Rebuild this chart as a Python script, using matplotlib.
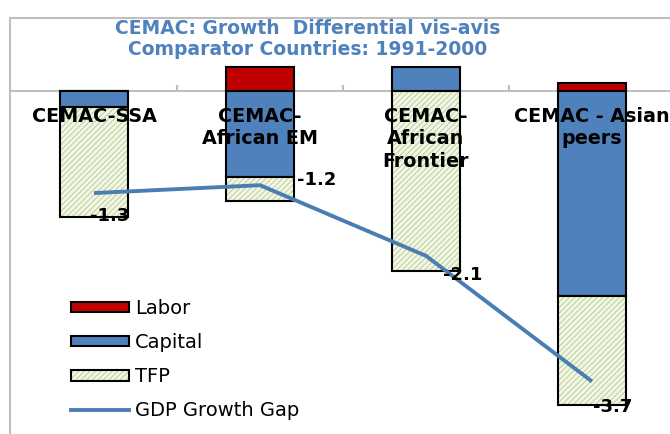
import numpy as np
import matplotlib
matplotlib.use('Agg')
import matplotlib.pyplot as plt
from matplotlib.patches import Patch, Rectangle
from matplotlib.lines import Line2D

# data
categories = ['CEMAC-SSA', 'CEMAC-\nAfrican EM', 'CEMAC-\nAfrican\nFrontier', 'CEMAC - Asian\npeers']
labor = [0.0, 0.30, 0.0, 0.10]
capital = [-0.20, -1.10, 0.30, -2.61]
tfp = [-1.41, -0.30, -2.29, -1.39]
gap = [-1.3, -1.2, -2.1, -3.7]
gap_labels = ['-1.3', '-1.2', '-2.1', '-3.7']

# colours
RED = '#c00000'
BLUE = '#4f81bd'
TFP_FACE = '#f1f6e7'
TFP_HATCH = '#b3ca8a'
LINE = '#4a7eb2'
GRID = '#bfbfbf'

plt.rcParams['hatch.linewidth'] = 0.6
plt.rcParams['font.family'] = ['DejaVu Sans']

fig = plt.figure(figsize=(6.7, 4.34), dpi=100)
W, H = 670, 434
PX = 78.5  # pixels per unit

ax = fig.add_axes([11 / W, 0, 664 / W, 1])
ax.set_xlim(-0.5, 3.5)
ax.set_ylim(-343 / PX, 91 / PX)
ax.axis('off')

# chart frame
fig.patches.append(Rectangle((10 / W, -0.1), 1.2, 1 - 18 / H + 0.1, transform=fig.transFigure,
                             fill=False, edgecolor=GRID, lw=1.5, zorder=0))

x = np.arange(len(categories))
width = 0.41
pos = np.zeros(len(x))
neg = np.zeros(len(x))

def stack(vals):
    global pos, neg
    vals = np.array(vals)
    bottom = np.where(vals >= 0, pos, neg)
    pos = pos + np.where(vals >= 0, vals, 0)
    neg = neg + np.where(vals < 0, vals, 0)
    return vals, bottom

v, b = stack(labor)
ax.bar(x, v, width, bottom=b, color=RED, edgecolor='black', lw=1.5, zorder=2)
v, b = stack(capital)
ax.bar(x, v, width, bottom=b, color=BLUE, edgecolor='black', lw=1.5, zorder=2)
v, b = stack(tfp)
ax.bar(x, v, width, bottom=b, color=TFP_FACE, edgecolor=TFP_HATCH, hatch='//////', lw=0, zorder=2)
ax.bar(x, v, width, bottom=b, fill=False, edgecolor='black', lw=1.5, zorder=2.1)

# category axis
ax.axhline(0, color=GRID, lw=1.5, zorder=1)
ax.vlines([0.5, 1.5, 2.5], 0, 6 / PX, color=GRID, lw=1.5, zorder=1)

for i, lab in enumerate(categories):
    ax.text(i, -16 / PX, lab, ha='center', va='top', fontsize=13.8, fontweight='bold',
            linespacing=1.22, zorder=5)

# growth gap line
ax.plot(x, gap, color=LINE, lw=2.8, zorder=4, solid_capstyle='butt')
offsets = [(16, -23), (57, 5), (37, -19), (21, -26)]
for xi, yi, lab, off in zip(x, gap, gap_labels, offsets):
    ax.annotate(lab, (xi, yi), xytext=off, textcoords='offset pixels', ha='center', va='center',
                fontsize=13, fontweight='bold', zorder=6)

# title
fig.text(308 / W, 1 - 39 / H, 'CEMAC: Growth  Differential vis-avis\nComparator Countries: 1991-2000',
         ha='center', va='center', color=BLUE, fontsize=13.5, fontweight='bold', linespacing=1.15)

# legend
h_labor = Patch(facecolor=RED, edgecolor='black', lw=1.5)
h_cap = Patch(facecolor=BLUE, edgecolor='black', lw=1.5)
h_tfp = (Patch(facecolor=TFP_FACE, edgecolor=TFP_HATCH, hatch='//////', lw=0),
         Patch(fill=False, edgecolor='black', lw=1.5))
h_gap = Line2D([], [], color=LINE, lw=2.8)
ax.legend([h_labor, h_cap, h_tfp, h_gap], ['Labor', 'Capital', 'TFP', 'GDP Growth Gap'],
          loc='upper left', bbox_to_anchor=(71 / W, 1 - 299 / H), bbox_transform=fig.transFigure,
          frameon=False, fontsize=14, borderpad=0, borderaxespad=0, handlelength=3.0,
          handleheight=0.45, handletextpad=0.3, labelspacing=0.78)

fig.savefig('out.png', dpi=100)
